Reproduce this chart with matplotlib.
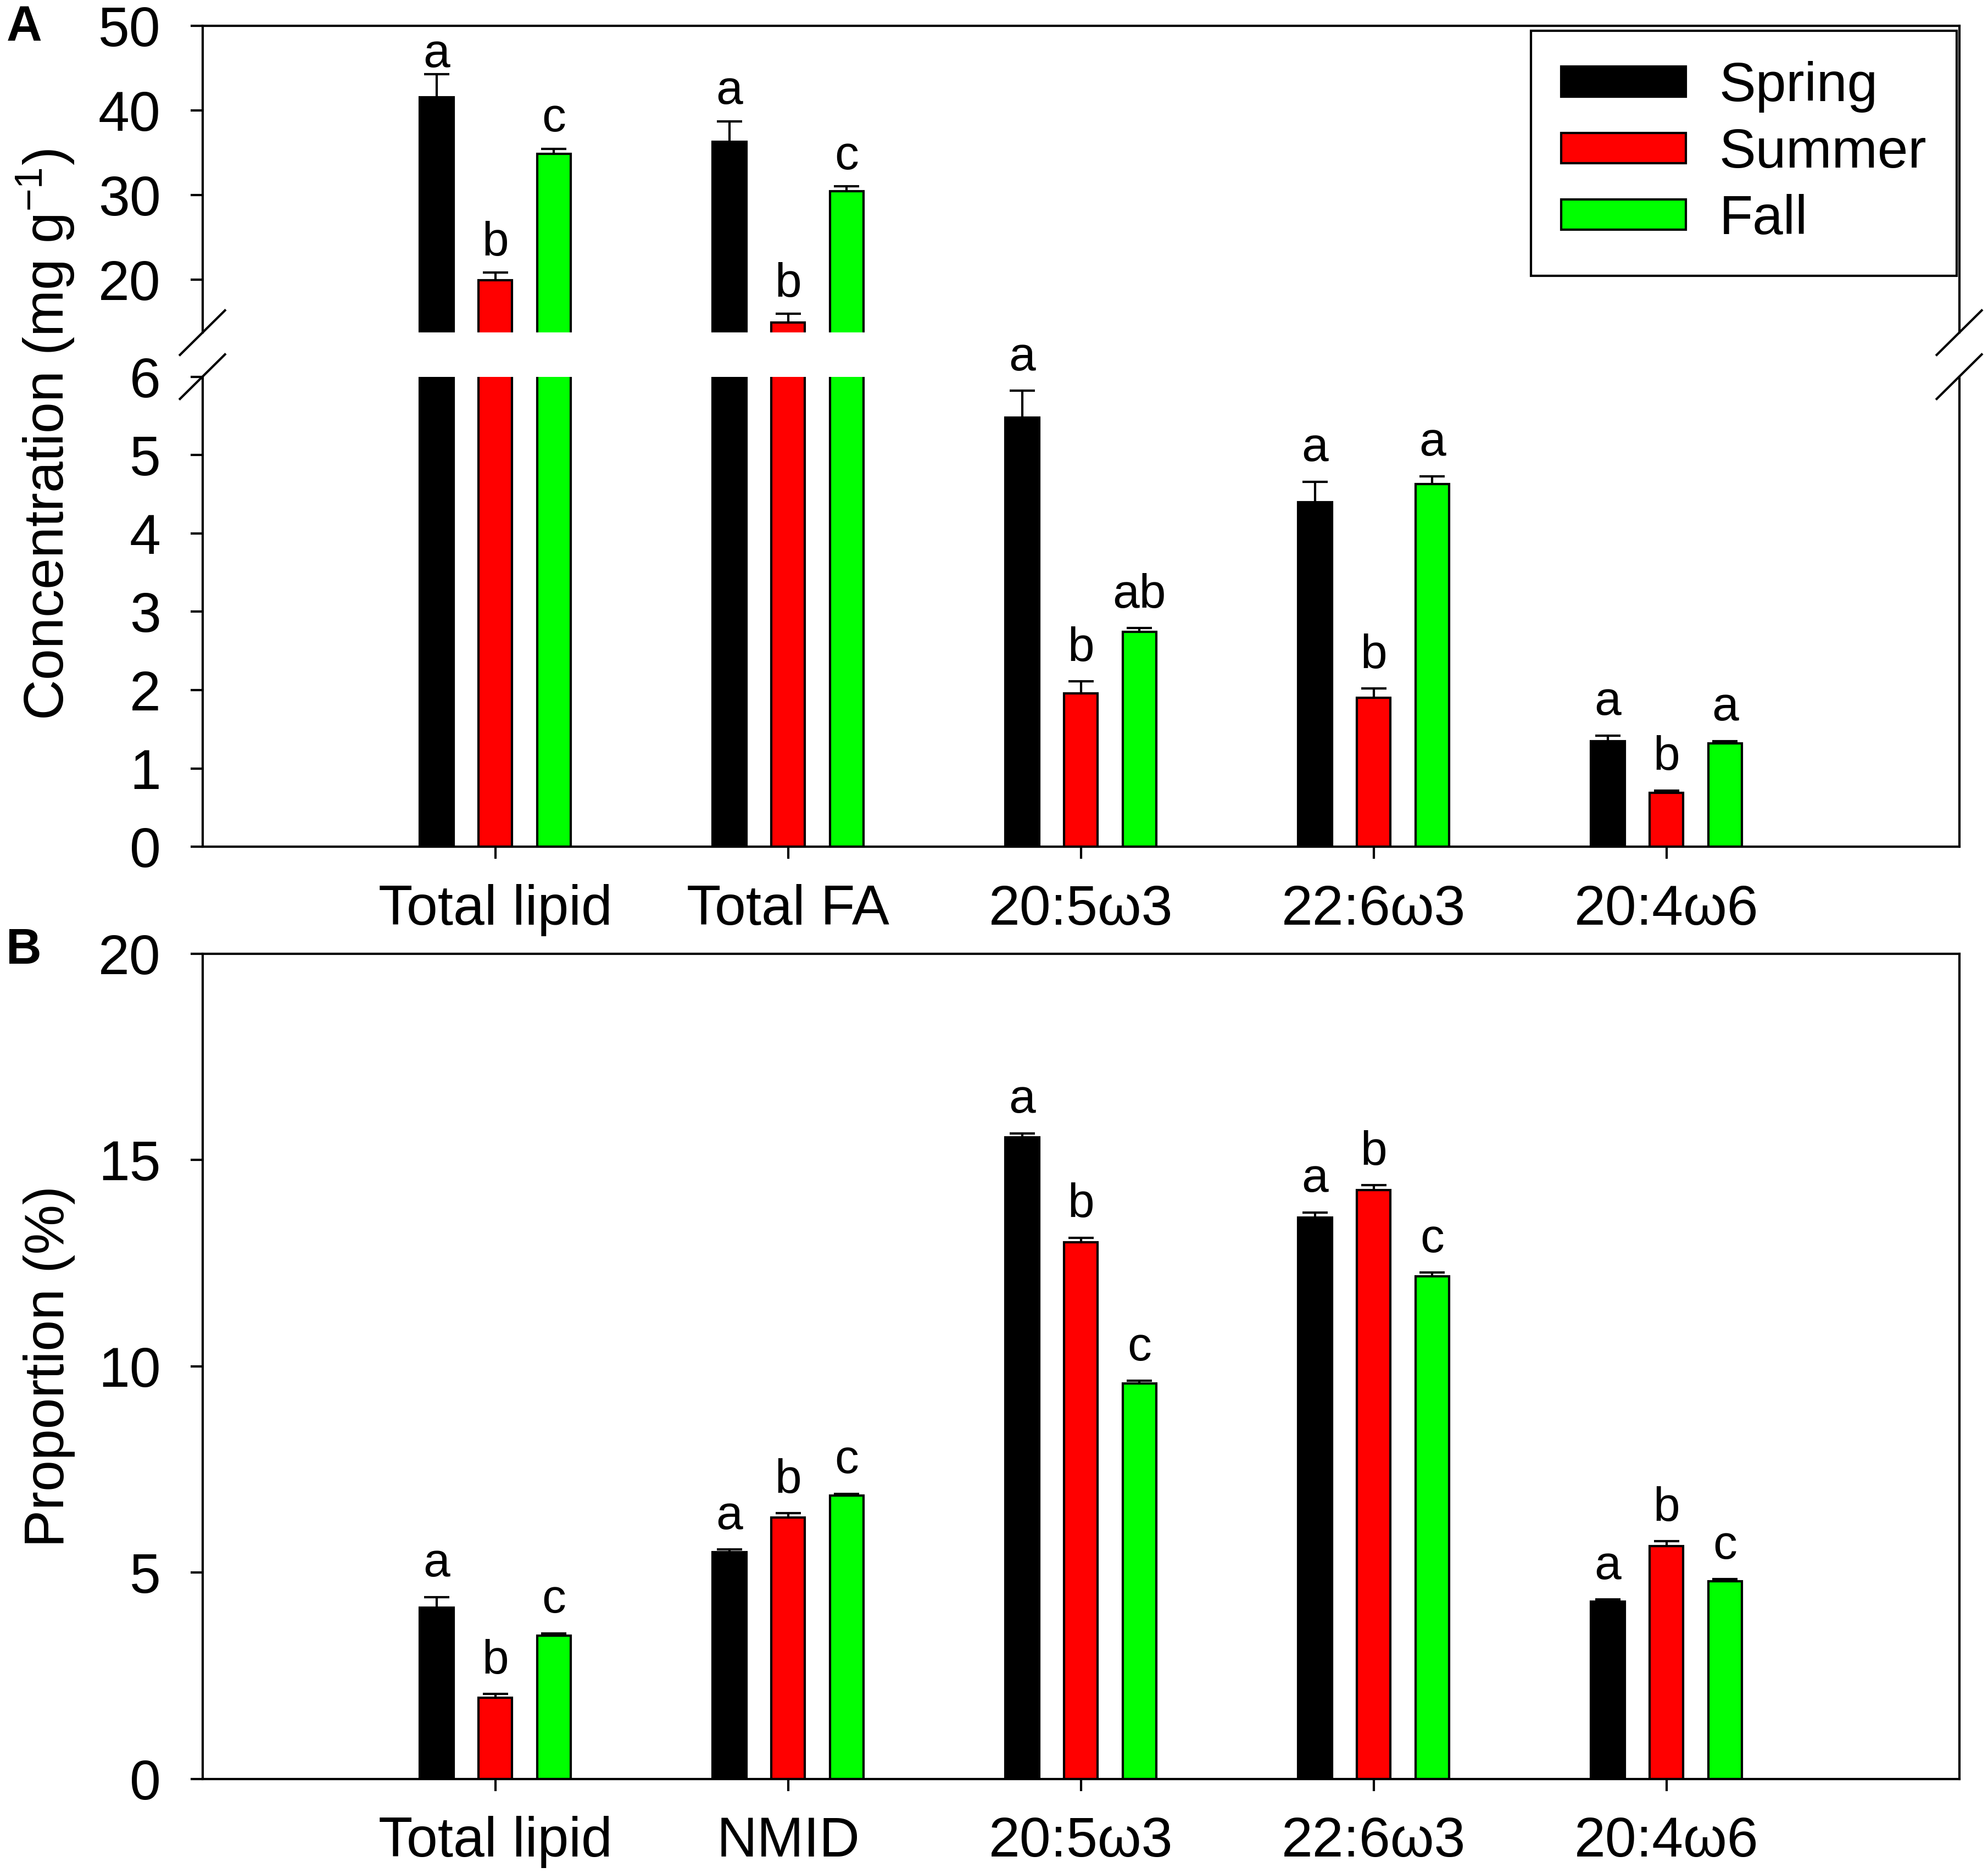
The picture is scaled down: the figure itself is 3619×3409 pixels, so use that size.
import matplotlib
matplotlib.use("Agg")
import matplotlib.pyplot as plt
from matplotlib.lines import Line2D
import numpy as np

plt.rcParams["font.family"] = ["Liberation Sans", "DejaVu Sans"]
plt.rcParams["mathtext.fontset"] = "custom"
plt.rcParams["mathtext.rm"] = "Liberation Sans"
plt.rcParams["mathtext.it"] = "Liberation Sans:italic"
plt.rcParams["mathtext.bf"] = "Liberation Sans:bold"

seasons = ["Spring", "Summer", "Fall"]
season_colors = ["#000000", "#ff0000", "#00ff00"]

# panel A: concentration (mg g-1)
conc_groups = ["Total lipid", "Total FA", "20:5\u03c93", "22:6\u03c93", "20:4\u03c96"]
conc_spring = [41.6, 36.3, 5.48, 4.40, 1.35]
conc_spring_se = [2.7, 2.45, 0.34, 0.26, 0.07]
conc_summer = [19.95, 14.95, 1.96, 1.90, 0.69]
conc_summer_se = [0.9, 1.05, 0.15, 0.12, 0.03]
conc_fall = [34.9, 30.46, 2.74, 4.63, 1.32]
conc_fall_se = [0.6, 0.6, 0.05, 0.10, 0.03]
conc_letters = [["a", "a", "a", "a", "a"],
                ["b", "b", "b", "b", "b"],
                ["c", "c", "ab", "a", "a"]]

# panel B: proportion (%)
prop_groups = ["Total lipid", "NMID", "20:5\u03c93", "22:6\u03c93", "20:4\u03c96"]
prop_spring = [4.15, 5.50, 15.55, 13.61, 4.30]
prop_spring_se = [0.26, 0.06, 0.10, 0.12, 0.05]
prop_summer = [1.97, 6.33, 13.01, 14.27, 5.65]
prop_summer_se = [0.09, 0.11, 0.11, 0.12, 0.11]
prop_fall = [3.47, 6.87, 9.59, 12.18, 4.79]
prop_fall_se = [0.06, 0.04, 0.06, 0.09, 0.05]
prop_letters = [["a", "a", "a", "a", "a"],
                ["b", "b", "b", "b", "b"],
                ["c", "c", "c", "c", "c"]]

OFFSETS = [-0.2, 0.0, 0.2]
WIDTH = 0.115
TICK_FS = 24.5
LETTER_FS = 21
DPI = 300


def style_axis(ax):
    for sp in ax.spines.values():
        sp.set_linewidth(1.0)
    ax.tick_params(axis="y", direction="out", length=5.2, width=1.0,
                   labelsize=TICK_FS, pad=13, right=False)
    ax.tick_params(axis="x", direction="out", length=5.2, width=1.0,
                   labelsize=TICK_FS, pad=11, top=False)
    ax.set_xlim(-1, 5)


def draw_bars(ax, means, ses):
    x = np.arange(len(means[0]))
    handles = []
    for i in range(3):
        xs = x + OFFSETS[i]
        m = np.array(means[i])
        tops = m + np.array(ses[i])
        h = ax.bar(xs, m, WIDTH, color=season_colors[i],
                   edgecolor="black", linewidth=1.0, label=seasons[i], zorder=2)
        # one-sided error bars: stem plus cap on top only
        ax.vlines(xs, m, tops, color="black", linewidth=1.0, zorder=3)
        ax.plot(xs, tops, linestyle="none", marker="_", markersize=11,
                markeredgewidth=1.0, color="black", zorder=3)
        handles.append(h)
    return handles


def draw_letters(ax, means, ses, letters, lo, hi, offset, clamp=False):
    x = np.arange(len(means[0]))
    ax_top_px = ax.transAxes.transform((0, 1))[1]
    for i in range(3):
        for j in range(len(x)):
            top = means[i][j] + ses[i][j]
            if lo <= top <= hi:
                off = offset
                if clamp:
                    # keep letters below the top frame line
                    top_px = ax.transData.transform((0, top))[1]
                    room = (ax_top_px - top_px) * 72 / DPI - 18
                    off = min(offset, room)
                ax.annotate(letters[i][j], (x[j] + OFFSETS[i], top),
                            xytext=(0, off), textcoords="offset points",
                            ha="center", va="baseline", fontsize=LETTER_FS)


fig = plt.figure(figsize=(3619 / DPI, 3409 / DPI), dpi=DPI)

L, W = 0.10185, 0.88367
ax_top = fig.add_axes([L, 0.8224, W, 0.1637])
ax_bot = fig.add_axes([L, 0.5479, W, 0.2510])
ax_b = fig.add_axes([L, 0.0502, W, 0.4406])

conc_means = [conc_spring, conc_summer, conc_fall]
conc_ses = [conc_spring_se, conc_summer_se, conc_fall_se]
prop_means = [prop_spring, prop_summer, prop_fall]
prop_ses = [prop_spring_se, prop_summer_se, prop_fall_se]

# panel A, broken axis
handles = draw_bars(ax_top, conc_means, conc_ses)
draw_bars(ax_bot, conc_means, conc_ses)
for ax in (ax_top, ax_bot, ax_b):
    style_axis(ax)

ax_top.set_ylim(13.75, 50)
ax_top.set_yticks([20, 30, 40, 50])
ax_top.spines["bottom"].set_visible(False)
ax_top.tick_params(axis="x", bottom=False, labelbottom=False)

ax_bot.set_ylim(0, 6)
ax_bot.set_yticks(range(0, 7))
ax_bot.spines["top"].set_visible(False)
ax_bot.set_xticks(np.arange(len(conc_groups)))
ax_bot.set_xticklabels(conc_groups)

draw_letters(ax_top, conc_means, conc_ses, conc_letters, 13.75, 50, 7.5,
             clamp=True)
draw_letters(ax_bot, conc_means, conc_ses, conc_letters, 0, 6, 9)

leg = ax_top.legend(handles=handles, loc="upper right",
                    bbox_to_anchor=(0.9986, 0.9846), borderaxespad=0,
                    fontsize=24, handlelength=2.27, handleheight=0.46,
                    handletextpad=0.6, labelspacing=0.27, borderpad=0.55,
                    fancybox=False, framealpha=1, edgecolor="black")
leg.get_frame().set_linewidth(1.0)

# break marks on both sides of panel A
dx, dy = 41 / 3619, 40.5 / 3409
y_top_break = 0.8224
y_bot_break = 0.5479 + 0.2510
for xc in (L, L + W):
    for yc in (y_top_break, y_bot_break):
        fig.add_artist(Line2D([xc - dx, xc + dx], [yc - dy, yc + dy],
                              transform=fig.transFigure, color="black",
                              linewidth=1.0))

# panel B
draw_bars(ax_b, prop_means, prop_ses)
ax_b.set_ylim(0, 20)
ax_b.set_yticks([0, 5, 10, 15, 20])
ax_b.set_xticks(np.arange(len(prop_groups)))
ax_b.set_xticklabels(prop_groups)
draw_letters(ax_b, prop_means, prop_ses, prop_letters, 0, 20, 9)

# axis titles and panel letters
fig.text(0.032, 0.768, "Concentration (mg g$^{-1}$)", rotation=90,
         rotation_mode="anchor", ha="center", va="baseline", fontsize=TICK_FS)
fig.text(0.032, 0.2705, "Proportion (%)", rotation=90,
         rotation_mode="anchor", ha="center", va="baseline", fontsize=TICK_FS)
fig.text(0.0033, 0.9783, "A", fontsize=21.5, fontweight="bold",
         ha="left", va="baseline")
fig.text(0.003, 0.4855, "B", fontsize=21.5, fontweight="bold",
         ha="left", va="baseline")

fig.savefig("out.png", dpi=DPI)
